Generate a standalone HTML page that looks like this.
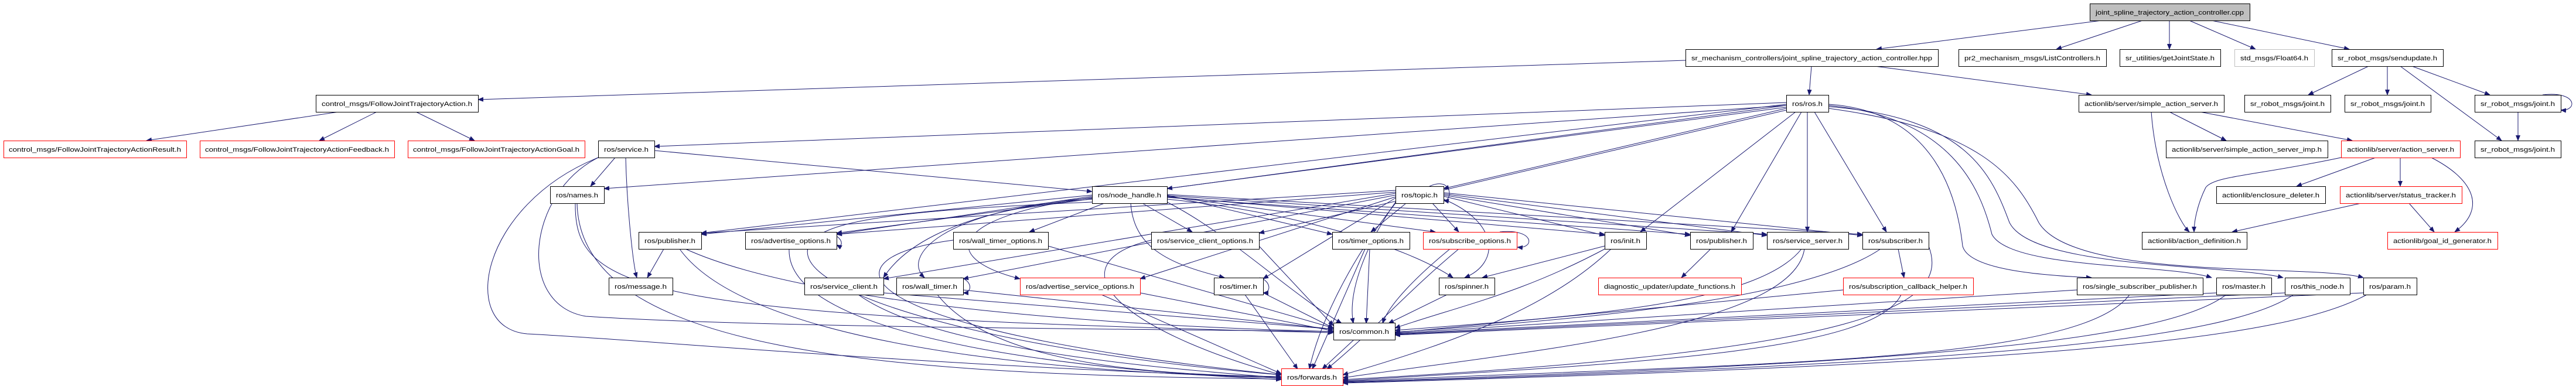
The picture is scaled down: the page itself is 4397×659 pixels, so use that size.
<!DOCTYPE html>
<html><head><meta charset="utf-8"><style>
html,body{margin:0;padding:0;background:#fff;}
svg{display:block;}
text{font-family:"Liberation Sans",sans-serif;font-size:11px;fill:#000;}
.e{fill:none;stroke:#191970;stroke-width:1;}
</style></head><body>
<svg width="4397" height="659" viewBox="0 0 4397 659" xmlns="http://www.w3.org/2000/svg">
<defs><marker id="a" markerWidth="10" markerHeight="8" refX="9" refY="4" orient="auto" markerUnits="userSpaceOnUse"><path d="M0 0L10 4L0 8z" fill="#191970"/></marker></defs>
<g class="e" marker-end="url(#a)">
<path d="M3587 35L3203 84"/><path d="M3657 35L3510 84"/><path d="M3703 35L3703 84"/><path d="M3737 35L3850 84"/><path d="M3775 35L4010 84"/>
<path d="M2877 103L816 170"/><path d="M3092 113L3088 162"/><path d="M3200 113L3570 162"/>
<path d="M4043 113L3940 162"/><path d="M4075 113L4075 162"/><path d="M4097 113L4270 240"/><path d="M4117 113L4250 162"/>
<path d="M4340 162C4400 155 4400 190 4371 188"/><path d="M4298 191L4298 240"/>
<path d="M578 191L250 240"/><path d="M643 191L545 240"/><path d="M710 191L810 240"/>
<path d="M3703 191L3800 240"/><path d="M3755 191L4015 240"/><path d="M3672 191C3680 300 3720 380 3737 396"/>
<path d="M3996 269C3850 300 3780 300 3765 320C3750 350 3745 380 3745 396"/><path d="M4055 269L3920 318"/><path d="M4097 269L4097 318"/><path d="M4150 269C4230 310 4240 360 4190 396"/>
<path d="M4030 347L3810 396"/><path d="M4112 347L4155 396"/>
<path d="M3049 175L1117 250"/><path d="M3049 180L1031 322"/><path d="M3049 183L1992 322"/><path d="M3049 185L2464 322"/><path d="M3049 178L1197 398"/><path d="M3049 180L1428 398"/><path d="M3049 188L2149 398"/>
<path d="M3065 191L2800 396"/><path d="M3075 191L2955 396"/><path d="M3085 191L3085 396"/><path d="M3097 191L3220 396"/>
<path d="M3121 178C3300 190 3340 330 3350 420C3360 460 3480 470 3570 474"/>
<path d="M3121 180C3330 200 3380 320 3400 400C3430 460 3700 450 3775 474"/>
<path d="M3121 182C3360 200 3400 300 3430 380C3470 460 3800 450 3897 474"/>
<path d="M3121 185C3380 220 3440 300 3480 380C3540 480 3950 450 4034 474"/>
<path d="M1117 257L1864 327"/><path d="M1050 269L1008 318"/><path d="M1068 269C1070 350 1080 450 1087 474"/>
<path d="M1021 269C900 330 880 520 1000 540C1300 560 2000 562 2276 566"/>
<path d="M1021 269C820 350 780 560 900 570C1100 580 1500 620 2187 645"/>
<path d="M982 347C980 500 1100 540 2276 568"/><path d="M985 347C990 600 1500 640 2187 647"/>
<path d="M1864 333L1197 400"/><path d="M1864 335L1428 400"/><path d="M1885 347L1757 396"/><path d="M1950 347L2035 396"/>
<path d="M1930 347C1935 420 1990 450 2090 474"/><path d="M1864 340C1600 360 1530 440 1508 474"/><path d="M1864 338C1600 360 1540 440 1578 474"/><path d="M1864 337C1620 370 1600 440 1741 476"/>
<path d="M1992 333L2274 400"/><path d="M1992 335L2450 396"/><path d="M1992 336L2739 400"/><path d="M1992 337L2885 400"/><path d="M1992 334L3016 400"/><path d="M1992 332L3179 400"/>
<path d="M1992 340C2200 360 2400 420 2480 474"/><path d="M1992 345C2100 400 2200 500 2290 552"/>
<path d="M1864 345C1500 360 1400 380 1380 420C1350 500 1700 600 2187 640"/>
<path d="M2382 325L1197 398"/><path d="M2382 328L1428 400"/><path d="M2382 330L1508 476"/><path d="M2382 333L1644 476"/><path d="M2382 336L1946 476"/><path d="M2382 338L2156 476"/>
<path d="M2400 347L2340 396"/><path d="M2445 347L2490 396"/><path d="M2464 335L2739 402"/><path d="M2464 333L2885 402"/><path d="M2464 331L3016 402"/><path d="M2464 329L3179 402"/>
<path d="M2464 340C2560 380 2560 450 2500 474"/><path d="M2382 345C2330 420 2300 500 2310 552"/><path d="M2382 347C2300 450 2250 560 2235 630"/>
<path d="M2440 318C2480 300 2480 345 2464 342"/>
<path d="M1133 425L1105 474"/><path d="M1170 425C1400 530 2000 560 2276 566"/><path d="M1160 425C1300 620 2000 640 2187 645"/>
<path d="M1420 400C1440 405 1440 425 1428 418"/><path d="M1347 425C1340 600 2000 640 2187 648"/>
<path d="M1789 420L2276 560"/><path d="M1627 410C1400 440 1420 560 2187 640"/>
<path d="M2149 420L2276 556"/><path d="M1965 410C1800 450 1900 560 2187 640"/>
<path d="M1508 500L2276 562"/><path d="M1465 503C1600 600 2000 630 2187 645"/>
<path d="M1640 474C1660 480 1660 500 1644 500"/><path d="M1644 495L2276 562"/><path d="M1600 503C1700 630 2000 640 2187 643"/>
<path d="M1880 503L2187 638"/><path d="M1946 500L2276 565"/>
<path d="M2150 474C2170 480 2170 500 2156 500"/><path d="M2156 500L2276 560"/><path d="M2125 503L2215 630"/>
<path d="M2338 425L2332 552"/><path d="M2330 425L2240 630"/>
<path d="M2560 396C2620 390 2620 425 2590 422"/><path d="M2475 425C2420 470 2370 520 2360 552"/><path d="M2490 425C2400 500 2350 560 2265 630"/>
<path d="M2739 420L2530 474"/><path d="M2745 422C2600 500 2500 520 2381 560"/><path d="M2750 425C2650 520 2500 580 2292 640"/>
<path d="M2920 425L2870 474"/><path d="M2470 503L2370 552"/>
<path d="M3075 425C3000 520 2700 540 2381 564"/><path d="M3080 425C3060 560 2600 600 2292 645"/>
<path d="M3240 425L3250 474"/><path d="M3210 425C3100 500 2800 540 2381 567"/><path d="M3292 420C3330 520 3200 600 2292 648"/>
<path d="M3146 495L2381 568"/><path d="M3245 503C3200 600 2800 620 2292 650"/>
<path d="M3545 495L2381 569"/><path d="M3635 503C3550 620 3000 620 2292 651"/>
<path d="M3783 500L2381 570"/><path d="M3800 503C3700 580 3300 620 2292 652"/>
<path d="M3900 500L2381 571"/><path d="M3915 503C3800 580 3400 620 2292 653"/>
<path d="M4034 500L2381 572"/><path d="M4040 503C3900 580 3500 620 2292 654"/>
<path d="M2311 580L2257 630"/>
</g>
<g stroke="#000" stroke-width="1" fill="#fff">
<rect x="3567.5" y="6.5" width="273" height="29" fill="#bfbfbf"/>
<rect x="2877.5" y="84.5" width="431" height="29"/>
<rect x="3343.5" y="84.5" width="252" height="29"/>
<rect x="3618.5" y="84.5" width="172" height="29"/>
<rect x="3814.5" y="84.5" width="136" height="29" stroke="#bfbfbf"/>
<rect x="3980.5" y="84.5" width="190" height="29"/>
<rect x="539.5" y="162.5" width="277" height="29"/>
<rect x="3049.5" y="162.5" width="72" height="29"/>
<rect x="3548.5" y="162.5" width="248" height="29"/>
<rect x="3831.5" y="162.5" width="147" height="29"/>
<rect x="4002.5" y="162.5" width="147" height="29"/>
<rect x="4224.5" y="162.5" width="147" height="29"/>
<rect x="6.5" y="240.5" width="312" height="29" stroke="#f00"/>
<rect x="341.5" y="240.5" width="332" height="29" stroke="#f00"/>
<rect x="696.5" y="240.5" width="302" height="29" stroke="#f00"/>
<rect x="1021.5" y="240.5" width="96" height="29"/>
<rect x="3697.5" y="240.5" width="276" height="29"/>
<rect x="3996.5" y="240.5" width="203" height="29" stroke="#f00"/>
<rect x="4224.5" y="240.5" width="147" height="29"/>
<rect x="939.5" y="318.5" width="92" height="29"/>
<rect x="1864.5" y="318.5" width="128" height="29"/>
<rect x="2382.5" y="318.5" width="82" height="29"/>
<rect x="3783.5" y="318.5" width="186" height="29"/>
<rect x="3994.5" y="318.5" width="208" height="29" stroke="#f00"/>
<rect x="1090.5" y="396.5" width="107" height="29"/>
<rect x="1272.5" y="396.5" width="156" height="29"/>
<rect x="1627.5" y="396.5" width="162" height="29"/>
<rect x="1965.5" y="396.5" width="184" height="29"/>
<rect x="2274.5" y="396.5" width="132" height="29"/>
<rect x="2429.5" y="396.5" width="160" height="29" stroke="#f00"/>
<rect x="2739.5" y="396.5" width="71" height="29"/>
<rect x="2885.5" y="396.5" width="107" height="29"/>
<rect x="3016.5" y="396.5" width="139" height="29"/>
<rect x="3179.5" y="396.5" width="113" height="29"/>
<rect x="3656.5" y="396.5" width="179" height="29"/>
<rect x="4075.5" y="396.5" width="188" height="29" stroke="#f00"/>
<rect x="1039.5" y="474.5" width="109" height="29"/>
<rect x="1373.5" y="474.5" width="135" height="29"/>
<rect x="1530.5" y="474.5" width="114" height="29"/>
<rect x="1741.5" y="474.5" width="205" height="29" stroke="#f00"/>
<rect x="2072.5" y="474.5" width="84" height="29"/>
<rect x="2456.5" y="474.5" width="95" height="29"/>
<rect x="2728.5" y="474.5" width="244" height="29" stroke="#f00"/>
<rect x="3146.5" y="474.5" width="222" height="29" stroke="#f00"/>
<rect x="3545.5" y="474.5" width="215" height="29"/>
<rect x="3783.5" y="474.5" width="94" height="29"/>
<rect x="3900.5" y="474.5" width="111" height="29"/>
<rect x="4034.5" y="474.5" width="91" height="29"/>
<rect x="2276.5" y="551.5" width="105" height="29"/>
<rect x="2187.5" y="629.5" width="105" height="29" stroke="#f00"/>
</g>
<g lengthAdjust="spacingAndGlyphs">
<text x="3577" y="25" textLength="253" lengthAdjust="spacingAndGlyphs">joint_spline_trajectory_action_controller.cpp</text>
<text x="2887" y="103" textLength="411" lengthAdjust="spacingAndGlyphs">sr_mechanism_controllers/joint_spline_trajectory_action_controller.hpp</text>
<text x="3353" y="103" textLength="232" lengthAdjust="spacingAndGlyphs">pr2_mechanism_msgs/ListControllers.h</text>
<text x="3628" y="103" textLength="152" lengthAdjust="spacingAndGlyphs">sr_utilities/getJointState.h</text>
<text x="3824" y="103" textLength="116" lengthAdjust="spacingAndGlyphs">std_msgs/Float64.h</text>
<text x="3990" y="103" textLength="170" lengthAdjust="spacingAndGlyphs">sr_robot_msgs/sendupdate.h</text>
<text x="549" y="181" textLength="257" lengthAdjust="spacingAndGlyphs">control_msgs/FollowJointTrajectoryAction.h</text>
<text x="3059" y="181" textLength="52" lengthAdjust="spacingAndGlyphs">ros/ros.h</text>
<text x="3558" y="181" textLength="228" lengthAdjust="spacingAndGlyphs">actionlib/server/simple_action_server.h</text>
<text x="3841" y="181" textLength="127" lengthAdjust="spacingAndGlyphs">sr_robot_msgs/joint.h</text>
<text x="4012" y="181" textLength="127" lengthAdjust="spacingAndGlyphs">sr_robot_msgs/joint.h</text>
<text x="4234" y="181" textLength="127" lengthAdjust="spacingAndGlyphs">sr_robot_msgs/joint.h</text>
<text x="15" y="259" textLength="294" lengthAdjust="spacingAndGlyphs">control_msgs/FollowJointTrajectoryActionResult.h</text>
<text x="350" y="259" textLength="314" lengthAdjust="spacingAndGlyphs">control_msgs/FollowJointTrajectoryActionFeedback.h</text>
<text x="705" y="259" textLength="284" lengthAdjust="spacingAndGlyphs">control_msgs/FollowJointTrajectoryActionGoal.h</text>
<text x="1031" y="259" textLength="76" lengthAdjust="spacingAndGlyphs">ros/service.h</text>
<text x="3707" y="259" textLength="256" lengthAdjust="spacingAndGlyphs">actionlib/server/simple_action_server_imp.h</text>
<text x="4006" y="259" textLength="183" lengthAdjust="spacingAndGlyphs">actionlib/server/action_server.h</text>
<text x="4234" y="259" textLength="127" lengthAdjust="spacingAndGlyphs">sr_robot_msgs/joint.h</text>
<text x="949" y="337" textLength="72" lengthAdjust="spacingAndGlyphs">ros/names.h</text>
<text x="1874" y="337" textLength="108" lengthAdjust="spacingAndGlyphs">ros/node_handle.h</text>
<text x="2392" y="337" textLength="62" lengthAdjust="spacingAndGlyphs">ros/topic.h</text>
<text x="3793" y="337" textLength="166" lengthAdjust="spacingAndGlyphs">actionlib/enclosure_deleter.h</text>
<text x="4004" y="337" textLength="188" lengthAdjust="spacingAndGlyphs">actionlib/server/status_tracker.h</text>
<text x="1100" y="415" textLength="87" lengthAdjust="spacingAndGlyphs">ros/publisher.h</text>
<text x="1282" y="415" textLength="136" lengthAdjust="spacingAndGlyphs">ros/advertise_options.h</text>
<text x="1637" y="415" textLength="142" lengthAdjust="spacingAndGlyphs">ros/wall_timer_options.h</text>
<text x="1975" y="415" textLength="164" lengthAdjust="spacingAndGlyphs">ros/service_client_options.h</text>
<text x="2284" y="415" textLength="112" lengthAdjust="spacingAndGlyphs">ros/timer_options.h</text>
<text x="2439" y="415" textLength="140" lengthAdjust="spacingAndGlyphs">ros/subscribe_options.h</text>
<text x="2749" y="415" textLength="51" lengthAdjust="spacingAndGlyphs">ros/init.h</text>
<text x="2895" y="415" textLength="87" lengthAdjust="spacingAndGlyphs">ros/publisher.h</text>
<text x="3026" y="415" textLength="119" lengthAdjust="spacingAndGlyphs">ros/service_server.h</text>
<text x="3189" y="415" textLength="93" lengthAdjust="spacingAndGlyphs">ros/subscriber.h</text>
<text x="3666" y="415" textLength="159" lengthAdjust="spacingAndGlyphs">actionlib/action_definition.h</text>
<text x="4085" y="415" textLength="168" lengthAdjust="spacingAndGlyphs">actionlib/goal_id_generator.h</text>
<text x="1049" y="493" textLength="89" lengthAdjust="spacingAndGlyphs">ros/message.h</text>
<text x="1383" y="493" textLength="115" lengthAdjust="spacingAndGlyphs">ros/service_client.h</text>
<text x="1540" y="493" textLength="94" lengthAdjust="spacingAndGlyphs">ros/wall_timer.h</text>
<text x="1751" y="493" textLength="185" lengthAdjust="spacingAndGlyphs">ros/advertise_service_options.h</text>
<text x="2082" y="493" textLength="64" lengthAdjust="spacingAndGlyphs">ros/timer.h</text>
<text x="2466" y="493" textLength="75" lengthAdjust="spacingAndGlyphs">ros/spinner.h</text>
<text x="2738" y="493" textLength="224" lengthAdjust="spacingAndGlyphs">diagnostic_updater/update_functions.h</text>
<text x="3156" y="493" textLength="202" lengthAdjust="spacingAndGlyphs">ros/subscription_callback_helper.h</text>
<text x="3555" y="493" textLength="195" lengthAdjust="spacingAndGlyphs">ros/single_subscriber_publisher.h</text>
<text x="3793" y="493" textLength="74" lengthAdjust="spacingAndGlyphs">ros/master.h</text>
<text x="3910" y="493" textLength="91" lengthAdjust="spacingAndGlyphs">ros/this_node.h</text>
<text x="4044" y="493" textLength="71" lengthAdjust="spacingAndGlyphs">ros/param.h</text>
<text x="2286" y="570" textLength="85" lengthAdjust="spacingAndGlyphs">ros/common.h</text>
<text x="2197" y="648" textLength="85" lengthAdjust="spacingAndGlyphs">ros/forwards.h</text>
</g>
</svg>
</body></html>
